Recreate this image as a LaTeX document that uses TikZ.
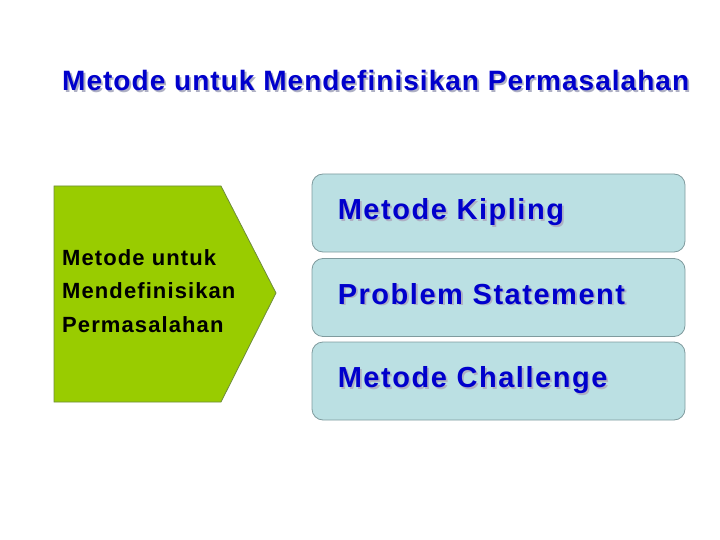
\documentclass[tikz,border=0pt]{standalone}
\usepackage{fontspec}
\setmainfont{Liberation Sans}
\newfontfamily\titlefont[LetterSpace=3.7]{Liberation Sans}
\newfontfamily\boxfont[LetterSpace=5.3]{Liberation Sans}
\newfontfamily\greenfont[LetterSpace=5]{Liberation Sans}
\usetikzlibrary{calc}
\definecolor{titleblue}{HTML}{0000CC}
\definecolor{shadowgray}{HTML}{AEB0C4}
\definecolor{arrowgreen}{HTML}{99CC00}
\definecolor{arrowborder}{HTML}{6E8B3D}
\definecolor{boxfill}{HTML}{BBE0E3}
\definecolor{boxborder}{HTML}{7F9B9E}
\newcommand\shadowed[1]{\makebox[0pt][l]{\hspace*{1.8pt}\raisebox{-1.8pt}{\color{shadowgray}#1}}#1}
\tikzset{
  titletext/.style={inner sep=0pt, anchor=base west, text=titleblue,
    font=\titlefont\bfseries\fontsize{28}{32}\selectfont},
  methodbox/.style={draw=boxborder, fill=boxfill, line width=0.8pt,
    rounded corners=11pt, minimum width=373pt, minimum height=78pt, inner sep=0pt},
  boxtext/.style={inner sep=0pt, anchor=base west, text=titleblue,
    font=\boxfont\bfseries\fontsize{29}{32}\selectfont},
  greentext/.style={inner sep=0pt, anchor=north west, align=left,
    font=\greenfont\bfseries\fontsize{22}{33.5}\selectfont}
}
\begin{document}
\begin{tikzpicture}[x=1pt,y=-1pt]
\useasboundingbox (0,0) rectangle (720,540);
% title
\node[titletext] (title) at (62,90.5) {\shadowed{Metode untuk Mendefinisikan Permasalahan}};
% green pentagon arrow
\draw[fill=arrowgreen, draw=arrowborder, line width=0.8pt]
  (54,186) -- (221,186) -- (276,293) -- (221,402) -- (54,402) -- cycle;
\node[greentext] (main) at (62,249) {Metode untuk\\Mendefinisikan\\Permasalahan};
% boxes
\node[methodbox] (k1) at (498.5,213) {};
\node[methodbox] (k2) at (498.5,297.5) {};
\node[methodbox] (k3) at (498.5,381) {};
\node[boxtext] (t1) at ($(k1.west)+(26,6.5)$) {\shadowed{Metode Kipling}};
\node[boxtext] (t2) at ($(k2.west)+(26,6.5)$) {\shadowed{Problem Statement}};
\node[boxtext] (t3) at ($(k3.west)+(26,6.5)$) {\shadowed{Metode Challenge}};
\end{tikzpicture}
\end{document}
